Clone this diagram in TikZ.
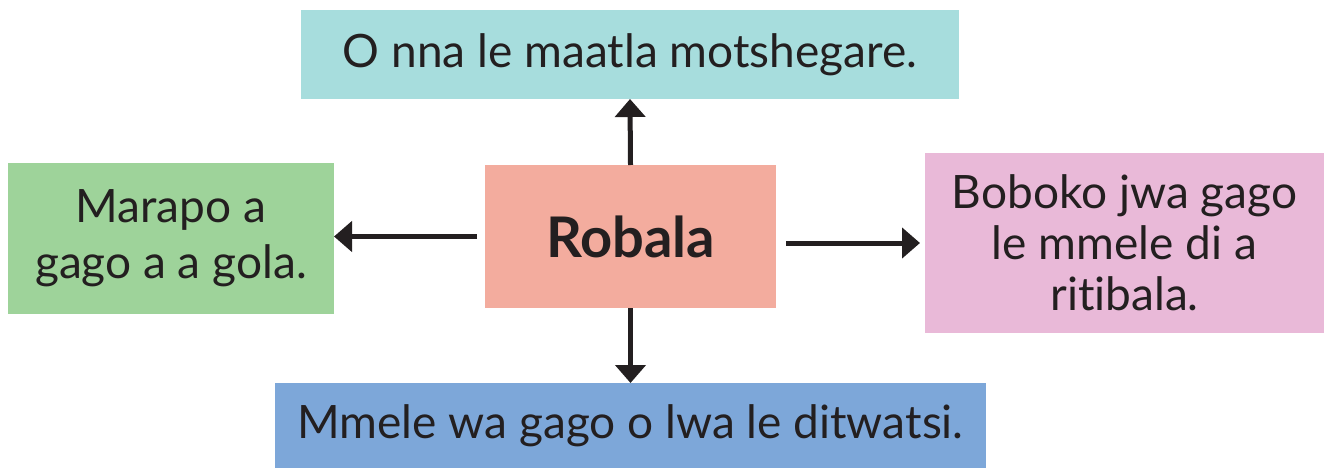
\documentclass[tikz,border=0pt]{standalone}
\usepackage{fontspec}
\setmainfont[Ligatures={NoCommon}]{Lato}
\usetikzlibrary{arrows.meta,calc}
\definecolor{ink}{HTML}{231F20}
\definecolor{boxtop}{HTML}{A7DDDD}
\definecolor{boxleft}{HTML}{9ED39A}
\definecolor{boxmid}{HTML}{F3AC9E}
\definecolor{boxright}{HTML}{E9B9D8}
\definecolor{boxbottom}{HTML}{7DA7D9}
\tikzset{
  panel/.style={rectangle, inner sep=0pt, outer sep=0pt, text=ink, align=center,
    font=\fontsize{46}{54}\selectfont},
  link/.style={draw=ink, line width=5pt, -{Triangle[width=30pt,length=18pt]}}
}
\begin{document}
\begin{tikzpicture}[x=1pt,y=-1pt]
\useasboundingbox (0,0) rectangle (1324,468);
\node[panel, fill=boxtop, minimum width=658pt, minimum height=89pt] (top) at (630,54.5) {O nna le maatla motshegare.};
\node[panel, fill=boxleft, minimum width=326pt, minimum height=151pt, font=\fontsize{46}{56}\selectfont] (left) at (171,238.5) {Marapo a\\gago a a gola.};
\node[panel, fill=boxmid, minimum width=291pt, minimum height=143pt, font=\fontsize{56}{60}\bfseries\selectfont] (mid) at (630.5,236.5) {Robala};
\node[panel, fill=boxright, minimum width=399pt, minimum height=180pt, font=\fontsize{46}{51}\selectfont] (right) at (1124.5,243) {Boboko jwa gago\\le mmele di a\\ritibala.};
\node[panel, fill=boxbottom, minimum width=711pt, minimum height=85pt] (bottom) at (630.5,425.5) {Mmele wa gago o lwa le ditwatsi.};
\draw[link] (mid.north) -- (top.south);
\draw[link] (mid.south) -- (bottom.north);
\draw[link] ([xshift=-8pt]mid.west) -- (left.east |- mid.west);
\draw[link, shorten >=5pt] ([xshift=10pt]mid.east |- right.west) -- (right.west);
\end{tikzpicture}
\end{document}
